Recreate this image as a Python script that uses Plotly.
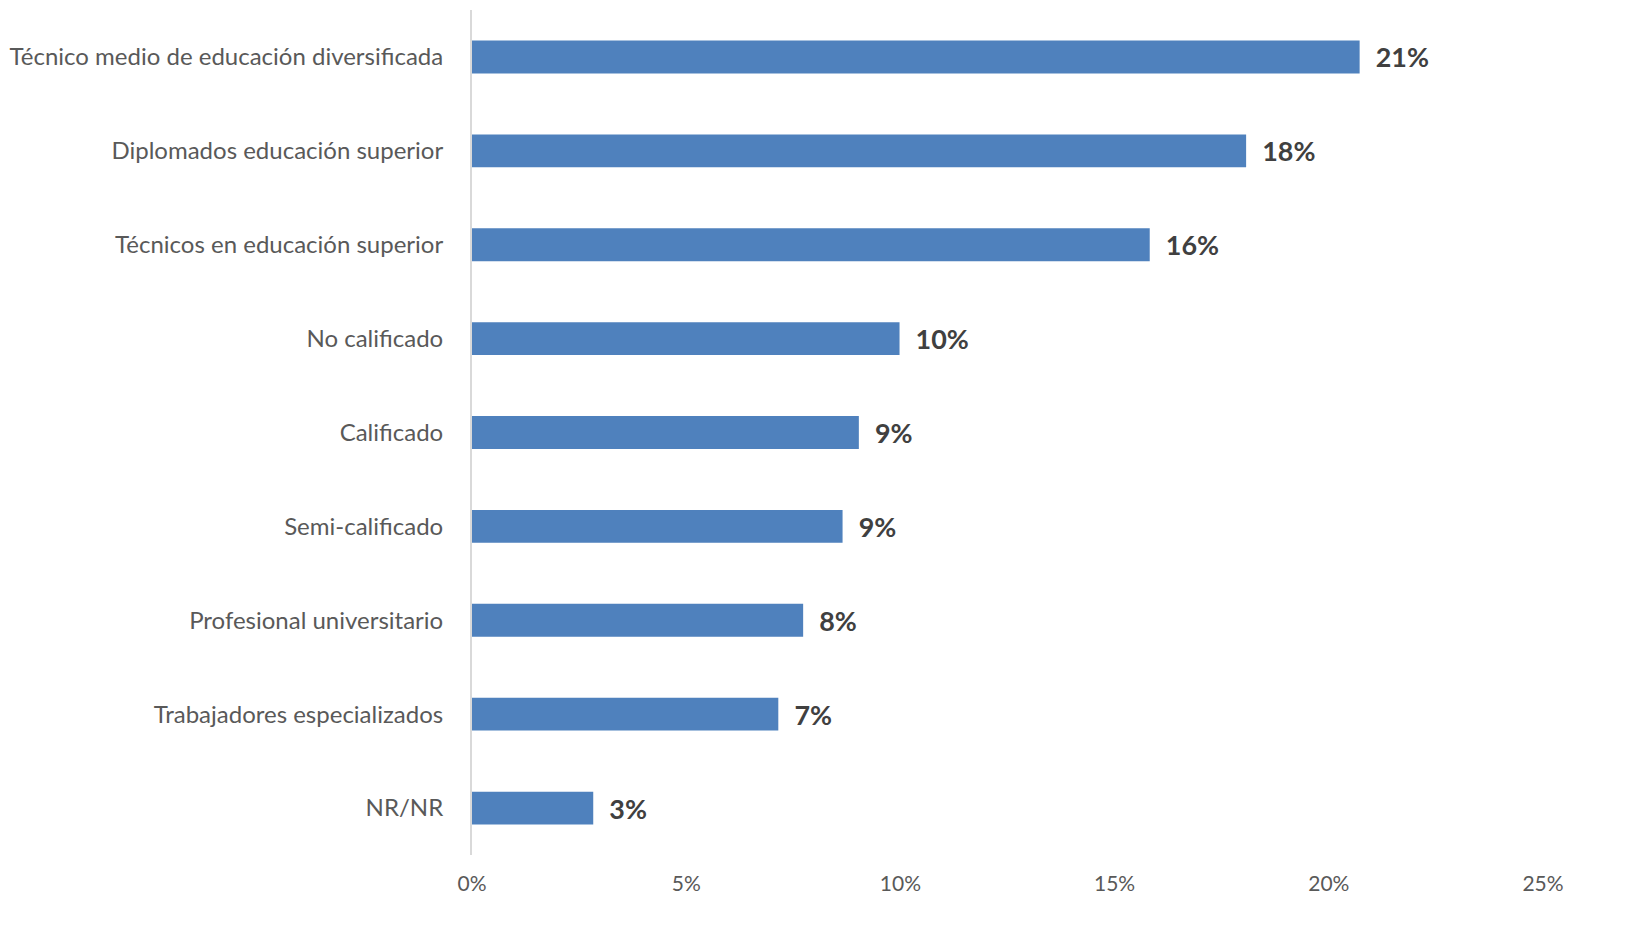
import plotly.graph_objects as go

categories = [
    "Técnico medio de educación diversificada",
    "Diplomados educación superior",
    "Técnicos en educación superior",
    "No calificado",
    "Calificado",
    "Semi-calificado",
    "Profesional universitario",
    "Trabajadores especializados",
    "NR/NR",
]
values = [0.2072, 0.1807, 0.1582, 0.0998, 0.0903, 0.0865, 0.0773, 0.0715, 0.0283]
tick_vals = [0, 0.05, 0.10, 0.15, 0.20, 0.25]
tick_text = ["0%", "5%", "10%", "15%", "20%", "25%"]

fig = go.Figure()
fig.add_trace(go.Bar(
    x=values,
    y=categories,
    orientation="h",
    width=0.35,
    marker=dict(color="#4F81BD", line=dict(width=0)),
    texttemplate="\u00a0\u00a0%{x:.0%}",
    textposition="outside",
    cliponaxis=False,
    textfont=dict(family="Lato", size=27, color="#404040", weight="bold"),
    hoverinfo="skip",
))

fig.update_layout(
    width=1633,
    height=934,
    margin=dict(l=466, r=90, t=10, b=79),
    paper_bgcolor="white",
    plot_bgcolor="white",
    showlegend=False,
    font=dict(family="Lato", color="#595959"),
)
fig.update_xaxes(
    range=[0, 0.25],
    tickvals=tick_vals,
    ticktext=tick_text,
    showgrid=False,
    zeroline=False,
    showline=False,
    tickfont=dict(size=21, color="#595959"),
    ticks="",
    ticklabelstandoff=14,
)
fig.update_yaxes(
    autorange="reversed",
    showgrid=False,
    showline=True,
    linecolor="#D9D9D9",
    linewidth=2,
    ticks="",
    tickfont=dict(size=24, color="#595959"),
    ticklabelstandoff=22,
)

fig.write_html(
    "out.html",
    config={"displayModeBar": False},
    post_script="document.body.style.margin='0';document.body.style.overflow='hidden';",
)
